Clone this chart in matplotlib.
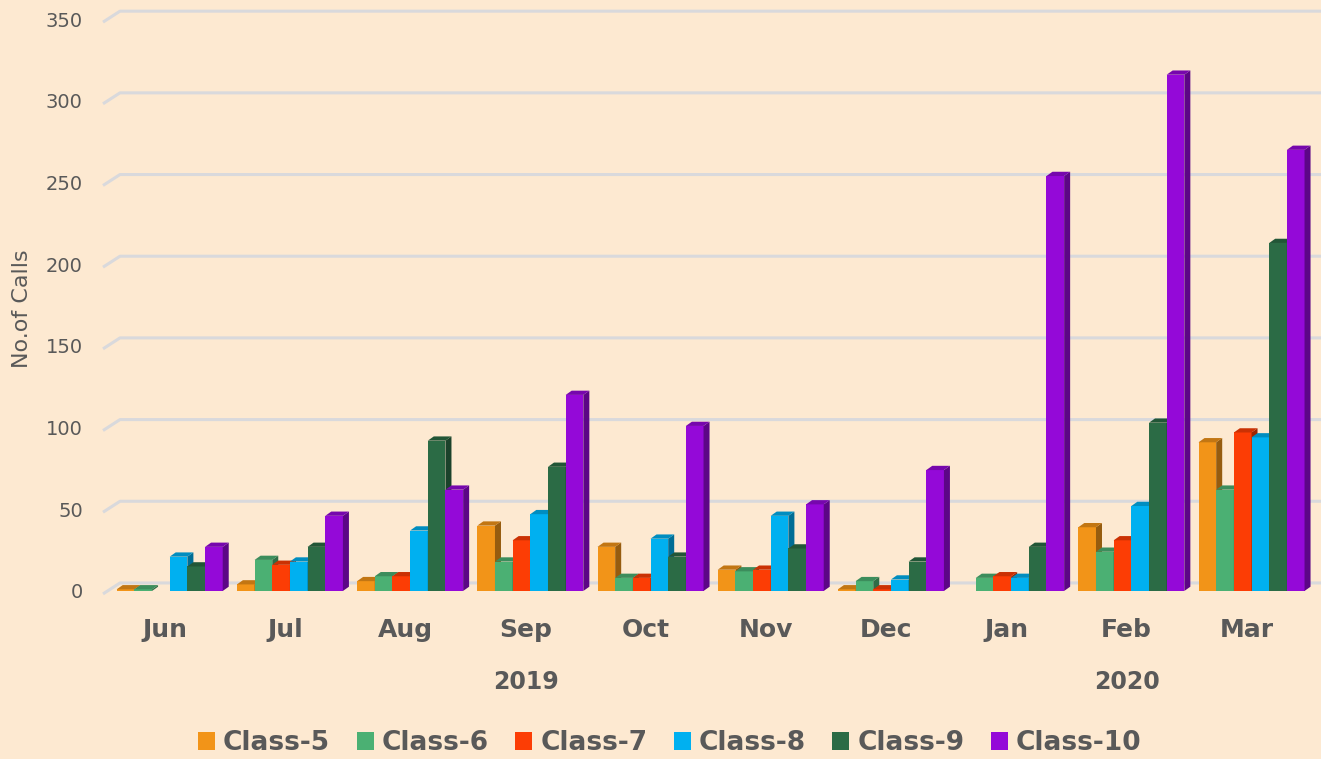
import matplotlib
matplotlib.use("Agg")
import matplotlib.pyplot as plt
from matplotlib.patches import Polygon, Patch
from matplotlib.transforms import blended_transform_factory

# --- data --------------------------------------------------------------------
months = ["Jun", "Jul", "Aug", "Sep", "Oct", "Nov", "Dec", "Jan", "Feb", "Mar"]
years = ["2019", "2020"]
year_span = [(0, 6), (7, 9)]
classes = ["Class-5", "Class-6", "Class-7", "Class-8", "Class-9", "Class-10"]

class5 = [1, 4, 6, 40, 27, 13, 1, 0, 39, 91]
class6 = [1, 19, 9, 18, 8, 12, 6, 8, 24, 62]
class7 = [0, 16, 9, 31, 8, 13, 1, 9, 31, 97]
class8 = [21, 18, 37, 47, 32, 46, 7, 8, 52, 94]
class9 = [15, 27, 92, 76, 21, 26, 18, 27, 103, 213]
class10 = [27, 46, 62, 120, 101, 53, 74, 254, 316, 270]
series = [class5, class6, class7, class8, class9, class10]

# --- style -------------------------------------------------------------------
BG = "#FDE9D1"
TXT = "#595959"
GRID = "#D9D9DC"
COLORS = ["#F29418", "#4BB073", "#FC3D05", "#00B0F0", "#2B6B45", "#9409D8"]

W = 0.147          # bar front width (category units)
DX, DY = 0.05, 2.6  # 3-D depth offset of bar sides/caps
OFF = 0.039        # group offset
BACK = 4.9         # back-wall grid offset (value units)

plt.rcParams.update({"font.family": "DejaVu Sans", "text.color": TXT})

fig = plt.figure(figsize=(13.21, 7.59), dpi=100, facecolor=BG)
ax = fig.add_axes([103 / 1321, 0.19987, 1 - 103 / 1321, 0.7964])
ax.set_facecolor(BG)
ax.set_xlim(-0.516, 9.617)
ax.set_ylim(-10, 360)
for s in ax.spines.values():
    s.set_visible(False)


def shade(c, f):
    r, g, b = matplotlib.colors.to_rgb(c)
    return (r * f, g * f, b * f)


# back-wall gridlines with their slanted left edge
x_l = ax.get_xlim()[0]
x_b = x_l + 17 / 120.2
for v in range(0, 351, 50):
    ax.plot([x_l, x_b, ax.get_xlim()[1]], [v + BACK - 6.7, v + BACK, v + BACK],
            color=GRID, lw=2.2, zorder=1, solid_capstyle="butt", clip_on=False)

# bars with a faux 3-D side and top
for k, (vals, col) in enumerate(zip(series, COLORS)):
    xs = [i + OFF + (k - 2.5) * W for i in range(len(months))]
    bars = ax.bar(xs, vals, width=W, color=col, zorder=3 + k, linewidth=0)
    for r, v in zip(bars, vals):
        if v <= 0:
            r.set_visible(False)
            continue
        x0, w, h = r.get_x(), r.get_width(), r.get_height()
        side = [(x0 + w, 0), (x0 + w, h), (x0 + w + DX, h + DY), (x0 + w + DX, DY)]
        top = [(x0, h), (x0 + w, h), (x0 + w + DX, h + DY), (x0 + DX, h + DY)]
        ax.add_patch(Polygon(side, closed=True, fc=shade(col, 0.62), ec="none", zorder=3 + k))
        ax.add_patch(Polygon(top, closed=True, fc=shade(col, 0.8), ec="none", zorder=3 + k))

# axes text
ax.set_yticks(range(0, 351, 50))
ax.set_xticks(range(len(months)), months)
ax.tick_params(axis="y", length=0, pad=14.5, labelsize=14, labelcolor=TXT)
ax.tick_params(axis="x", length=0, pad=8, labelsize=18, labelcolor=TXT)
for t in ax.get_xticklabels():
    t.set_fontweight("bold")

trans = blended_transform_factory(ax.transData, fig.transFigure)
for yr, (a, b) in zip(years, year_span):
    ax.text((a + b) / 2, 1 - 682 / 759, yr, transform=trans, ha="center", va="center",
            fontsize=17, fontweight="bold", color=TXT)

fig.text(22 / 1321, 1 - 309 / 759, "No.of Calls", rotation=90, ha="center", va="center",
         fontsize=16, color=TXT)

handles = [Patch(fc=c, ec="none") for c in COLORS]
leg = fig.legend(handles, classes, loc="center", bbox_to_anchor=(0.507, 0.021), ncol=6,
                 frameon=False, handlelength=0.65, handleheight=0.65, handletextpad=0.3,
                 columnspacing=1.0, prop={"size": 19, "weight": "bold"})
for t in leg.get_texts():
    t.set_color(TXT)

fig.savefig("out.png", dpi=100, facecolor=BG)
